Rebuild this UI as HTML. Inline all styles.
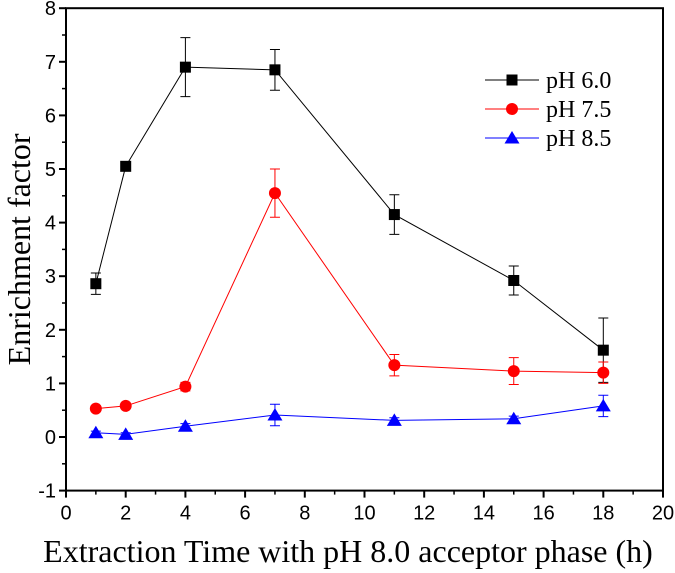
<!DOCTYPE html>
<html><head><meta charset="utf-8"><style>body{margin:0;background:#fff}svg{display:block}</style></head>
<body>
<svg id="chart" width="675" height="573" xmlns="http://www.w3.org/2000/svg"></svg>
<script>
const xVals=[1,2,4,7,11,15,18];
const ph60=[2.86,5.05,6.9,6.85,4.15,2.92,1.62];
const ph60Err=[0.2,0.05,0.55,0.38,0.37,0.27,0.6];
const ph75=[0.53,0.58,0.94,4.55,1.34,1.23,1.2];
const ph75Err=[0.05,0.05,0.08,0.45,0.2,0.25,0.2];
const ph85=[0.08,0.05,0.2,0.41,0.31,0.34,0.58];
const ph85Err=[0.03,0.03,0.05,0.2,0.05,0.05,0.2];
const xTicks=[0,2,4,6,8,10,12,14,16,18,20];
const yTicks=[-1,0,1,2,3,4,5,6,7,8];
const seriesNames=["pH 6.0","pH 7.5","pH 8.5"];

const NS="http://www.w3.org/2000/svg";
const svg=document.getElementById('chart');
const X=v=>66+v*29.85;
const Y=v=>437-v*53.6;
function mk(tag,attrs,parent){const e=document.createElementNS(NS,tag);for(const k in attrs)e.setAttribute(k,attrs[k]);(parent||svg).appendChild(e);return e;}

const frame=mk('rect',{x:X(0),y:Y(8),width:X(20)-X(0),height:Y(-1)-Y(8),fill:'none',stroke:'#000','stroke-width':2});



xTicks.forEach((t,i)=>{
  const l=mk('line',{x1:X(t),x2:X(t),y1:Y(-1),y2:Y(-1)+7,stroke:'#000','stroke-width':2});
  
  
  if(i<xTicks.length-1){const m=mk('line',{x1:X(t+1),x2:X(t+1),y1:Y(-1),y2:Y(-1)+4,stroke:'#000','stroke-width':1.5});
  
  }
  const tx=mk('text',{x:X(t),y:Y(-1)+29,'text-anchor':'middle','font-family':'Liberation Sans, sans-serif','font-size':20});
  tx.textContent=t;
  
  
});
yTicks.forEach((t,i)=>{
  const l=mk('line',{x1:X(0),x2:X(0)-7,y1:Y(t),y2:Y(t),stroke:'#000','stroke-width':2});
  
  
  if(i<yTicks.length-1){const m=mk('line',{x1:X(0),x2:X(0)-4,y1:Y(t+0.5),y2:Y(t+0.5),stroke:'#000','stroke-width':1.5});
  
  }
  const tx=mk('text',{x:X(0)-10,y:Y(t)+7,'text-anchor':'end','font-family':'Liberation Sans, sans-serif','font-size':20});
  tx.textContent=t;
  
  
});

const xt=mk('text',{x:348,y:562,'text-anchor':'middle','font-family':'Liberation Serif, serif','font-size':32});
xt.textContent='Extraction Time with pH 8.0 acceptor phase (h)';


const yt=mk('text',{x:0,y:0,'text-anchor':'middle','font-family':'Liberation Serif, serif','font-size':32,transform:`translate(30,${Y(3.5)}) rotate(-90)`});
yt.textContent='Enrichment factor';



function marker(shape,cx,cy,color,parent){
  if(shape==='square')return mk('rect',{x:cx-5.5,y:cy-5.5,width:11,height:11,fill:color},parent);
  if(shape==='circle')return mk('circle',{cx:cx,cy:cy,r:6,fill:color},parent);
  return mk('polygon',{points:`${cx},${cy-7} ${cx+7.5},${cy+5.5} ${cx-7.5},${cy+5.5}`,fill:color},parent);
}
const series=[[ph60,ph60Err,'#000','square','series-ph-6-0'],[ph75,ph75Err,'#f00','circle','series-ph-7-5'],[ph85,ph85Err,'#00f','triangle','series-ph-8-5']];
series.forEach(([vals,errs,color,shape,name],si)=>{
  const g=mk('g',{});
  
  
  const ln=mk('polyline',{points:xVals.map((x,i)=>X(x)+','+Y(vals[i])).join(' '),fill:'none',stroke:color,'stroke-width':1},g);
  
  
  xVals.forEach((x,i)=>{
    const cx=X(x),y1=Y(vals[i]+errs[i]),y2=Y(vals[i]-errs[i]);
    const e=mk('path',{d:`M${cx},${y1}V${y2}M${cx-5},${y1}H${cx+5}M${cx-5},${y2}H${cx+5}`,stroke:color,'stroke-width':1,fill:'none'},g);
    
    
    const m=marker(shape,cx,Y(vals[i]),color,g);
    
    
  });
  const ly=80+si*29;
  const lg=mk('g',{},svg);
  
  
  mk('line',{x1:485,x2:539,y1:ly,y2:ly,stroke:color,'stroke-width':1},lg);
  marker(shape,512,ly,color,lg);
  const t=mk('text',{x:546,y:ly+8,'font-family':'Liberation Serif, serif','font-size':24},lg);
  t.textContent=seriesNames[si];
});
</script>
</body></html>
